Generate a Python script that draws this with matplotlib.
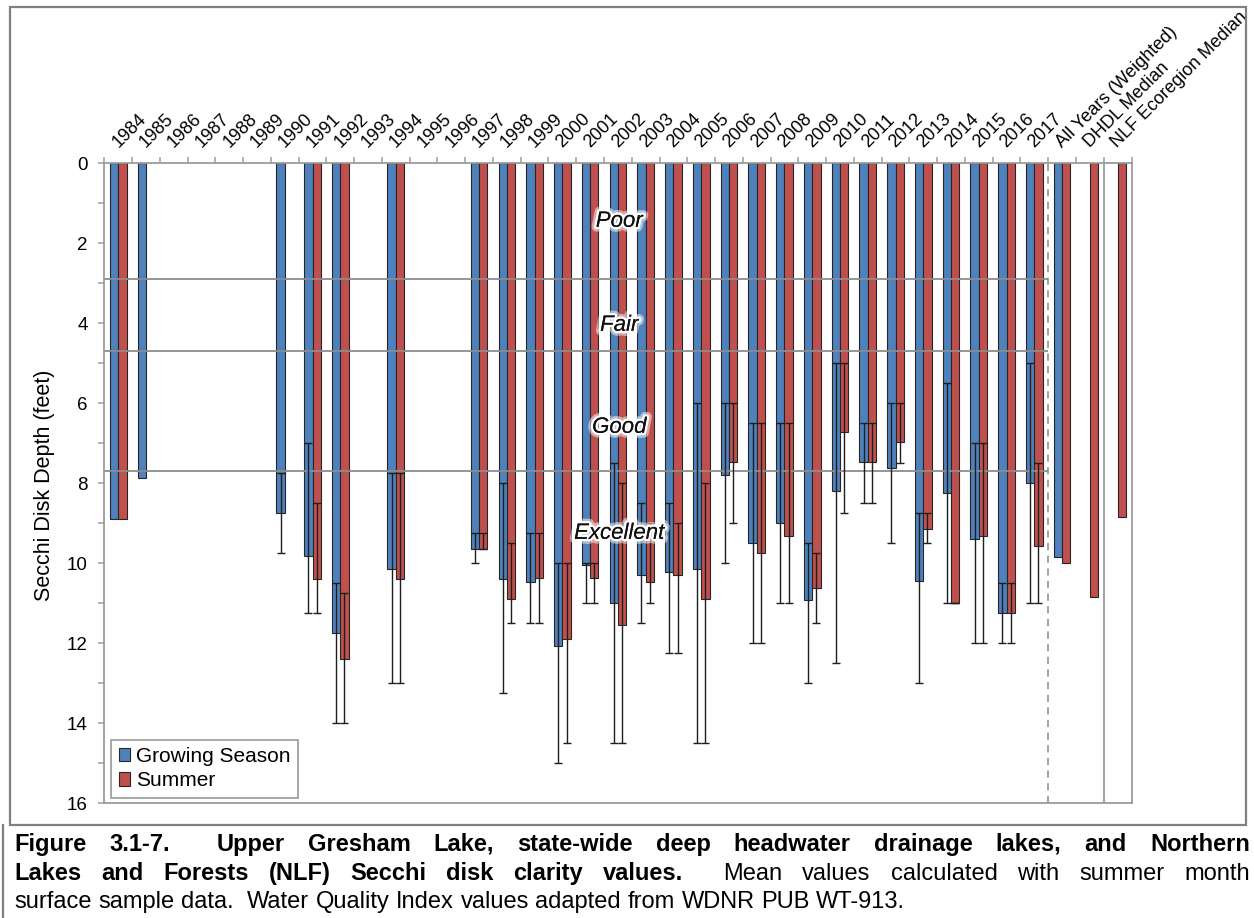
import re
import numpy as np
import matplotlib
matplotlib.use("Agg")
import matplotlib.pyplot as plt
from matplotlib import patheffects as pe
from matplotlib.lines import Line2D
from matplotlib.patches import Rectangle

plt.rcParams["font.family"] = ["Liberation Sans", "DejaVu Sans"]

nan = np.nan

# ---------------------------------------------------------------- data
categories = [str(y) for y in range(1984, 2018)] + [
    "All Years (Weighted)", "DHDL Median", "NLF Ecoregion Median"]

# Growing season Secchi depth (feet): mean, minimum, maximum
gs_mean = [8.88, 7.88, nan, nan, nan, nan, 8.75, 9.83, 11.75, nan, 10.13, nan, nan,
           9.63, 10.40, 10.46, 12.07, 10.04, 11.00, 10.30, 10.21, 10.15, 7.80, 9.50, 9.00, 10.93,
           8.19, 7.48, 7.63, 10.45, 8.25, 9.40, 11.25, 8.00, 9.85, nan, nan]
gs_min = [nan, nan, nan, nan, nan, nan, 7.75, 7.00, 10.50, nan, 7.75, nan, nan,
          9.25, 8.00, 9.25, 10.00, 10.00, 7.50, 8.50, 8.50, 6.00, 6.00, 6.50, 6.50, 9.50,
          5.00, 6.50, 6.00, 8.75, 5.50, 7.00, 10.50, 5.00, nan, nan, nan]
gs_max = [nan, nan, nan, nan, nan, nan, 9.75, 11.25, 14.00, nan, 13.00, nan, nan,
          10.00, 13.25, 11.50, 15.00, 11.00, 14.50, 11.50, 12.25, 14.50, 10.00, 12.00, 11.00, 13.00,
          12.50, 8.50, 9.50, 13.00, 11.00, 12.00, 12.00, 11.00, nan, nan, nan]

# Summer Secchi depth (feet): mean, minimum, maximum
su_mean = [8.88, nan, nan, nan, nan, nan, nan, 10.40, 12.40, nan, 10.38, nan, nan,
           9.63, 10.88, 10.36, 11.88, 10.36, 11.54, 10.46, 10.29, 10.90, 7.48, 9.73, 9.32, 10.61,
           6.73, 7.48, 6.98, 9.15, 11.00, 9.33, 11.25, 9.56, 10.00, 10.85, 8.85]
su_min = [nan, nan, nan, nan, nan, nan, nan, 8.50, 10.75, nan, 7.75, nan, nan,
          9.25, 9.50, 9.25, 10.00, 10.00, 8.00, 9.00, 9.00, 8.00, 6.00, 6.50, 6.50, 9.75,
          5.00, 6.50, 6.00, 8.75, 11.00, 7.00, 10.50, 7.50, nan, nan, nan]
su_max = [nan, nan, nan, nan, nan, nan, nan, 11.25, 14.00, nan, 13.00, nan, nan,
          9.63, 11.50, 11.50, 14.50, 11.00, 14.50, 11.00, 12.25, 14.50, 9.00, 12.00, 11.00, 11.50,
          8.75, 8.50, 7.50, 9.50, 11.00, 12.00, 12.00, 11.00, nan, nan, nan]

# Water Quality Index class boundaries and labels
quality_bounds = [2.9, 4.7, 7.7]
quality_names = ["Poor", "Fair", "Good", "Excellent"]
quality_label_y = [1.45, 4.05, 6.6, 9.25]

# ---------------------------------------------------------------- figure
W, H, DPI = 1254, 918, 100
fig = plt.figure(figsize=(W / DPI, H / DPI), dpi=DPI)
fig.patch.set_facecolor("white")

ax_left, ax_right, ax_top, ax_bottom = 104.3, 1131.5, 163.3, 803.3
ax = fig.add_axes([ax_left / W, 1 - ax_bottom / H,
                   (ax_right - ax_left) / W, (ax_bottom - ax_top) / H])

BLUE, RED, EDGE, GREY = "#4F81BD", "#C0504D", "#262626", "#9c9c9c"
x = np.arange(len(categories))
bw = 0.3

series = [
    ("Growing Season", -bw / 2, BLUE, gs_mean, gs_min, gs_max),
    ("Summer", bw / 2, RED, su_mean, su_min, su_max),
]
for name, off, col, mean, lo, hi in series:
    mean, lo, hi = np.array(mean), np.array(lo), np.array(hi)
    ax.bar(x + off, mean, width=bw, color=col, edgecolor=EDGE, linewidth=0.8,
           label=name, zorder=2)
    m = ~np.isnan(lo)
    ax.errorbar(x[m] + off, mean[m], yerr=[mean[m] - lo[m], hi[m] - mean[m]],
                fmt="none", ecolor="#1e1e1e", elinewidth=1.0, capsize=3.2,
                capthick=1.0, zorder=3)

# class boundaries over the yearly bars
ax.hlines(quality_bounds, -0.5, 33.5, colors="#8c8c8c", linewidth=1.3, zorder=2.5)
ax.axvline(33.5, color=GREY, linestyle=(0, (4, 3)), linewidth=1.3, zorder=1)
ax.axvline(35.5, color=GREY, linewidth=1.3, zorder=1)

glow = [pe.withStroke(linewidth=7, foreground="white", alpha=0.5),
        pe.withStroke(linewidth=3.5, foreground="white"), pe.Normal()]
for name, yy in zip(quality_names, quality_label_y):
    ax.text(18.05, yy, name, style="italic", fontsize=16, ha="center", va="center",
            color="#111111", path_effects=glow, zorder=5)

ax.set_xlim(-0.5, len(categories) - 0.5)
ax.set_ylim(16, 0)

for sp in ax.spines.values():
    sp.set_color(GREY)
    sp.set_linewidth(1.3)

ax.xaxis.tick_top()
ax.set_xticks(x)
ax.set_xticklabels(categories, rotation=45, ha="left", va="baseline",
                   rotation_mode="anchor", fontsize=13)
ax.set_xticks(np.arange(-0.5, len(categories), 1), minor=True)
ax.tick_params(axis="x", which="major", length=0, pad=11)
ax.tick_params(axis="x", which="minor", length=4, width=1.1, color=GREY,
               direction="out", top=True, bottom=False)

ax.set_yticks(np.arange(0, 17, 2))
ax.set_yticks(np.arange(1, 17, 2), minor=True)
ax.tick_params(axis="y", which="both", length=4, width=1.1, color=GREY,
               direction="out", labelsize=13.5, pad=8)

leg = ax.legend(loc="lower left", bbox_to_anchor=(0.007, 0.009), fontsize=15,
                frameon=True, fancybox=False, edgecolor="#a0a0a0", framealpha=1,
                borderpad=0.35, labelspacing=0.25, handlelength=0.55,
                handleheight=0.6, handletextpad=0.3, borderaxespad=0)
leg.get_frame().set_linewidth(1.3)

fig.text(45 / W, 1 - 485 / H, "Secchi Disk Depth (feet)", rotation=90,
         ha="center", va="center", fontsize=15.5)

# frame around the chart and the caption rule
fig.add_artist(Rectangle((10 / W, 1 - 825 / H), 1236 / W, 818 / H,
                         transform=fig.transFigure, fill=False,
                         edgecolor="#808080", linewidth=1.6))
fig.add_artist(Line2D([3 / W, 3 / W], [0, 1 - 825 / H], transform=fig.transFigure,
                      color="#808080", linewidth=1.6))

# ---------------------------------------------------------------- caption
CAP_FAMILY, CAP_FS = "Liberation Sans", 17
renderer = fig.canvas.get_renderer()


def caption_line(segments, base_px, x0, x1, justify):
    words = []
    for text, weight in segments:
        for mt in re.finditer(r"(\s*)(\S+)", text):
            words.append((mt.group(2), weight, len(mt.group(1))))
    items = []
    for w, weight, gap in words:
        t = fig.text(0, 1 - base_px / H, w, fontsize=CAP_FS, weight=weight,
                     family=CAP_FAMILY, ha="left", va="baseline")
        items.append((t, t.get_window_extent(renderer).width, gap))
    sp = fig.text(0, 0, "n n", fontsize=CAP_FS, family=CAP_FAMILY)
    sp2 = fig.text(0, 0, "nn", fontsize=CAP_FS, family=CAP_FAMILY)
    space_px = sp.get_window_extent(renderer).width - sp2.get_window_extent(renderer).width
    sp.remove()
    sp2.remove()
    units = sum(g for _, _, g in items[1:])
    total = sum(wd for _, wd, _ in items)
    gap_px = (x1 - x0 - total) / units if justify else space_px
    pos = x0
    for i, (t, wd, g) in enumerate(items):
        if i > 0:
            pos += g * gap_px
        t.set_x(pos / W)
        pos += wd


caption_line([("Figure 3.1-7.  Upper Gresham Lake, state-wide deep headwater "
               "drainage lakes, and Northern", "bold")], 851, 14, 1250, True)
caption_line([("Lakes and Forests (NLF) Secchi disk clarity values.", "bold"),
              ("  Mean values calculated with summer month", "normal")],
             880, 14, 1250, True)
caption_line([("surface sample data.  Water Quality Index values adapted from "
               "WDNR PUB WT-913.", "normal")], 908, 14, 1250, False)

fig.savefig("out.png", dpi=DPI, facecolor="white")
